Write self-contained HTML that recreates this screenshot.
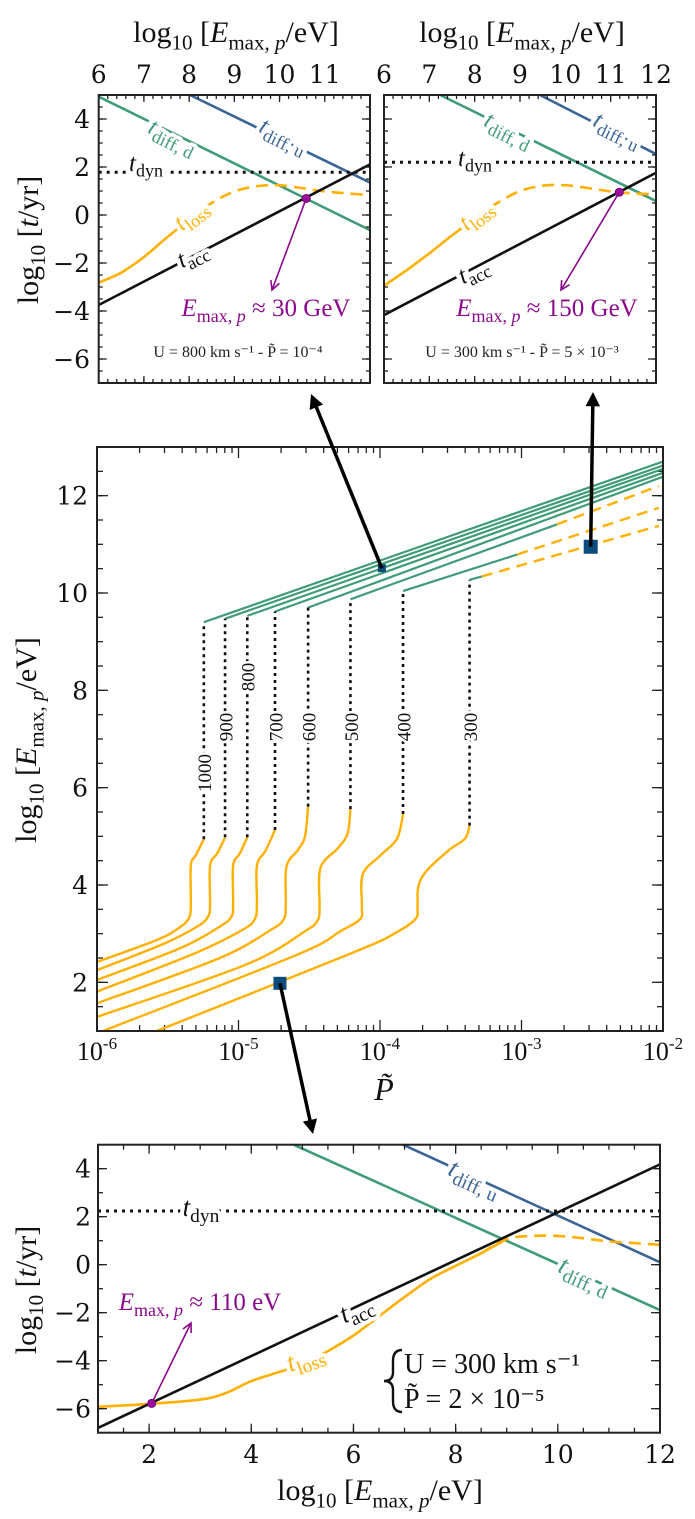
<!DOCTYPE html>
<html><head><meta charset="utf-8">
<style>
html,body{margin:0;padding:0;background:#fff;}
svg{display:block;}
text{font-family:"Liberation Serif","DejaVu Serif",serif;}
.tk{font-family:"DejaVu Serif","Liberation Serif",serif;font-size:25px;fill:#111;}
</style></head>
<body>
<svg id="fig" width="695" height="1519" viewBox="0 0 695 1519" xmlns="http://www.w3.org/2000/svg"></svg>
<script>
// ---------- data: top-left panel (U=800, P=1e-4) ----------
const tlDiffU = [[8.02,5],[12,1.35]];
const tlDiffD = [[6,4.93],[12,-0.63]];
const tlDyn = 1.78;
const tlAcc = [[6,-3.75],[12,2.11]];
const lossX = [6,6.5,7,7.5,8,8.5,9,9.5,10,10.5,11,11.5,12];
const tlLossY = [-2.82,-2.4,-1.75,-0.95,-0.2,0.5,0.98,1.2,1.24,1.12,0.98,0.9,0.83];
const tlPoint = [10.59,0.69];
// ---------- data: top-right panel (U=300, P=5e-3) ----------
const trDiffU = [[9.44,5],[12,2.54]];
const trDiffD = [[7.24,5],[12,0.58]];
const trDyn = 2.2;
const trAcc = [[6,-4.17],[12,1.76]];
const trLossY = [-2.95,-2.3,-1.6,-0.85,-0.15,0.5,1.0,1.22,1.24,1.12,0.98,0.9,0.86];
const trPoint = [11.19,0.95];
// ---------- data: bottom panel (U=300, P=2e-5) ----------
const bDiffU = [[6.97,5],[12,0.1]];
const bDiffD = [[4.83,5],[12,-1.89]];
const bDyn = 2.24;
const bAcc = [[1,-6.8],[12,4.18]];
const bLossX = [1,2,3,3.5,4,4.5,5,5.5,6,6.5,7,7.5,8,8.5,9,9.5,10,10.5,11,11.5,12];
const bLossY = [-5.92,-5.8,-5.62,-5.35,-4.85,-4.5,-4.15,-3.6,-2.95,-2.15,-1.35,-0.6,-0.05,0.48,1.07,1.2,1.2,1.1,0.97,0.9,0.83];
const bPoint = [2.05,-5.78];
// ---------- data: middle panel ----------
const speeds = [1000,900,800,700,600,500,400,300];
const greenStart = [[-5.245,9.40],[-5.096,9.47],[-4.938,9.53],[-4.742,9.62],[-4.509,9.70],[-4.209,9.87],[-3.837,10.04],[-3.367,10.27]];
const greenEnd = [12.70,12.62,12.55,12.47,12.39,12.2,11.75,11.38];
const dashStart = [null,null,null,null,null,-2.75,-3.03,-3.28];
const orangeCurves = [
 [[-6,2.42],[-5.577,2.87],[-5.42,3.12],[-5.35,3.32],[-5.337,3.6],[-5.337,4.4],[-5.3,4.62],[-5.245,4.94]],
 [[-6,2.25],[-5.522,2.80],[-5.29,3.15],[-5.215,3.35],[-5.201,3.6],[-5.201,4.4],[-5.15,4.65],[-5.095,4.98]],
 [[-6,2.05],[-5.413,2.70],[-5.13,3.15],[-5.05,3.35],[-5.038,3.6],[-5.038,4.4],[-4.99,4.65],[-4.938,4.98]],
 [[-6,1.81],[-5.305,2.60],[-4.97,3.08],[-4.885,3.3],[-4.870,3.6],[-4.870,4.4],[-4.81,4.7],[-4.742,5.13]],
 [[-6,1.57],[-5.141,2.49],[-4.77,3.08],[-4.68,3.3],[-4.666,3.6],[-4.661,4.38],[-4.58,4.72],[-4.53,5.0],[-4.508,5.61]],
 [[-6,1.29],[-4.951,2.36],[-4.53,3.05],[-4.44,3.28],[-4.427,3.55],[-4.421,4.35],[-4.3,4.75],[-4.23,5.05],[-4.209,5.56]],
 [[-5.958,1],[-4.6,2.55],[-4.28,3.05],[-4.14,3.3],[-4.128,3.55],[-4.122,4.22],[-4.0,4.6],[-3.88,4.95],[-3.837,5.46]],
 [[-5.578,1],[-4.2,2.6],[-3.9,3.0],[-3.75,3.3],[-3.735,3.55],[-3.73,3.95],[-3.674,4.28],[-3.511,4.72],[-3.4,4.95],[-3.367,5.22]]
];
const squares = [[-4.707,1.98,13],[-3.987,10.51,8],[-2.511,10.95,14]];

const C = {green:'#3f9c76',blue:'#3a6596',orange:'#ffb000',purple:'#8b0a8b',sq:'#0c4c7c',ax:'#222'};
const NS='http://www.w3.org/2000/svg';
const svg=document.getElementById('fig');
function el(tag,attrs,parent){const e=document.createElementNS(NS,tag);for(const k in attrs)e.setAttribute(k,attrs[k]);(parent||svg).appendChild(e);return e;}
function pathD(pts){return pts.map((p,i)=>(i?'L':'M')+p[0].toFixed(2)+' '+p[1].toFixed(2)).join(' ');}
function smoothD(p){
  if(p.length<3) return pathD(p);
  let d='M'+p[0][0].toFixed(2)+' '+p[0][1].toFixed(2);
  for(let i=0;i<p.length-1;i++){
    const p0=p[i-1]||p[i],p1=p[i],p2=p[i+1],p3=p[i+2]||p2;
    const c1=[p1[0]+(p2[0]-p0[0])/6,p1[1]+(p2[1]-p0[1])/6],c2=[p2[0]-(p3[0]-p1[0])/6,p2[1]-(p3[1]-p1[1])/6];
    d+=` C${c1[0].toFixed(2)} ${c1[1].toFixed(2)} ${c2[0].toFixed(2)} ${c2[1].toFixed(2)} ${p2[0].toFixed(2)} ${p2[1].toFixed(2)}`;
  }
  return d;
}

function makePanel(name,x0,x1,y0,y1,xmin,xmax,ymin,ymax){
  const g=el('g',{});
  
  
  return {g,X:v=>x0+(v-xmin)/(xmax-xmin)*(x1-x0),Y:v=>y1-(v-ymin)/(ymax-ymin)*(y1-y0),x0,x1,y0,y1};
}
function frame(P){
  const r=el('rect',{x:P.x0,y:P.y0,width:P.x1-P.x0,height:P.y1-P.y0,fill:'none',stroke:C.ax,'stroke-width':2},P.g);
  
  
}
function ticksLin(P,axis,from,to,step,len){
  const g=el('g',{stroke:C.ax,'stroke-width':1.3},P.g);
  
  
  const n=Math.round((to-from)/step);
  for(let i=0;i<=n;i++){const v=from+i*step;
    if(axis==='x'){const x=P.X(v);el('line',{x1:x,y1:P.y1,x2:x,y2:P.y1-len},g);el('line',{x1:x,y1:P.y0,x2:x,y2:P.y0+len},g);}
    else{const y=P.Y(v);el('line',{x1:P.x0,y1:y,x2:P.x0+len,y2:y},g);el('line',{x1:P.x1,y1:y,x2:P.x1-len,y2:y},g);}
  }
}
function line(P,pts,color,name,opts,smooth){
  const sp=pts.map(q=>[P.X(q[0]),P.Y(q[1])]);
  const p=el('path',Object.assign({d:smooth?smoothD(sp):pathD(sp),fill:'none',stroke:color,'stroke-width':2.6},opts||{}),P.g);
  
  
  return p;
}
function mathLabel(P,x,y,ang,main,sub,color,name,size){
  size=size||25;
  const t=el('text',{x:x,y:y,fill:color,'font-size':size,'text-anchor':'middle','dominant-baseline':'middle',transform:`rotate(${ang} ${x} ${y})`,stroke:'#fff','stroke-width':8,'paint-order':'stroke','stroke-linejoin':'round'},P.g);
  
  
  const a=el('tspan',{'font-style':'italic'},t);a.textContent=main;
  const b=el('tspan',{'font-size':size*0.72,dy:size*0.3},t);b.textContent=sub;
  return t;
}
function textAt(parent,x,y,str,attrs,name){
  const t=el('text',Object.assign({x:x,y:y},attrs||{}),parent);
  t.textContent=str;
  
  
  return t;
}
function emaxTitle(parent,x,y,name,size){
  size=size||30;
  const t=el('text',{x:x,y:y,'font-size':size,'text-anchor':'middle',fill:'#111'},parent);
  
  
  const parts=[['log',{}],['10',{'font-size':size*0.7,dy:size*0.25}],['  [',{dy:-size*0.25}],['E',{'font-style':'italic'}],['max, ',{'font-size':size*0.7,dy:size*0.25}],['p',{'font-size':size*0.7,'font-style':'italic'}],['/eV]',{dy:-size*0.25}]];
  parts.forEach(p=>{const s=el('tspan',p[1],t);s.textContent=p[0];});
  return t;
}
function tyrTitle(parent,x,y,name){
  const t=el('text',{x:x,y:y,'font-size':30,'text-anchor':'middle',fill:'#111',transform:`rotate(-90 ${x} ${y})`},parent);
  
  
  [['log',{}],['10',{'font-size':21,dy:7}],['  [',{dy:-7}],['t',{'font-style':'italic'}],['/yr]',{}]].forEach(p=>{const s=el('tspan',p[1],t);s.textContent=p[0];});
}
function arrow(x1,y1,x2,y2,color,w,head,name,filled){
  const g=el('g',{});
  
  
  const ang=Math.atan2(y2-y1,x2-x1);
  const bx=x2-Math.cos(ang)*head*0.8, by=y2-Math.sin(ang)*head*0.8;
  el('line',{x1:x1,y1:y1,x2:filled?bx:x2,y2:filled?by:y2,stroke:color,'stroke-width':w},g);
  const a1=ang+Math.PI*0.85,a2=ang-Math.PI*0.85;
  const p1=[x2+Math.cos(a1)*head,y2+Math.sin(a1)*head],p2=[x2+Math.cos(a2)*head,y2+Math.sin(a2)*head];
  if(filled) el('path',{d:`M${x2} ${y2} L${p1[0]} ${p1[1]} L${p2[0]} ${p2[1]} Z`,fill:color},g);
  else el('path',{d:`M${p1[0]} ${p1[1]} L${x2} ${y2} L${p2[0]} ${p2[1]}`,fill:'none',stroke:color,'stroke-width':w},g);
}
function emaxAnn(P,x,y,val,name){
  const t=el('text',{x:x,y:y,'font-size':25,fill:C.purple,'text-anchor':'middle',stroke:'#fff','stroke-width':5,'paint-order':'stroke'},P.g);
  
  [['E',{'font-style':'italic'}],['max, ',{'font-size':18,dy:6}],['p',{'font-size':18,'font-style':'italic'}],[' ≈ '+val,{dy:-6}]].forEach(p=>{const s=el('tspan',p[1],t);s.textContent=p[0];});
}

function timePanel(P,d){
  line(P,d.diffU,C.blue,'t-diff-u-line');
  line(P,d.diffD,C.green,'t-diff-d-line');
  line(P,[[d.xmin,d.dyn],[d.xmax,d.dyn]],'#111','t-dyn-line',{'stroke-dasharray':'3 5','stroke-width':3});
  const solid=[],dash=[];
  d.lx.forEach((x,i)=>{const p=[x,d.ly[i]];if(x<=d.solidEnd)solid.push(p);if(x>=d.solidEnd-0.5)dash.push(p);});
  line(P,solid,C.orange,'t-loss-solid',{},true);
  line(P,dash,C.orange,'t-loss-dashed',{'stroke-dasharray':'12 7'},true);
  line(P,d.acc,'#111','t-acc-line');
  const c=el('circle',{cx:P.X(d.pt[0]),cy:P.Y(d.pt[1]),r:4,fill:'#a010a0',stroke:'#700070','stroke-width':1},P.g);
  
  
}

// ===== Top-left =====
const TL=makePanel('panel-top-left',98.7,370,95,383,6,12,-7,5);
timePanel(TL,{diffU:tlDiffU,diffD:tlDiffD,dyn:tlDyn,acc:tlAcc,lx:lossX,ly:tlLossY,solidEnd:8.4,pt:tlPoint,xmin:6,xmax:12});
ticksLin(TL,'x',6,12,0.2,4);ticksLin(TL,'x',6,12,1,7);
ticksLin(TL,'y',-7,5,0.5,4);ticksLin(TL,'y',-6,4,2,8);
frame(TL);
mathLabel(TL,283,137,26,'t','diff, u',C.blue,'t-diff-u-label');
mathLabel(TL,172,138,26,'t','diff, d',C.green,'t-diff-d-label');
mathLabel(TL,146,165,0,'t','dyn','#111','t-dyn-label');
mathLabel(TL,192,216,-38,'t','loss',C.orange,'t-loss-label');
mathLabel(TL,193,256,-27,'t','acc','#111','t-acc-label');
arrow(TL.X(tlPoint[0]),TL.Y(tlPoint[1]),272,290,C.purple,1.6,10,'e-max-arrow-top-left',false);
emaxAnn(TL,266,316,'30 GeV','e-max-annotation');
textAt(TL.g,238,357,'U = 800 km s⁻¹ - P̃ = 10⁻⁴',{'font-size':16,'text-anchor':'middle',fill:'#222'},'parameters-annotation');
for(let v=6;v<=11;v++) textAt(TL.g,TL.X(v),83,String(v),{class:'tk','text-anchor':'middle'},'x-tick-label');
for(let v=-6;v<=4;v+=2) textAt(TL.g,90,TL.Y(v)+9,(v<0?'−':'')+Math.abs(v),{class:'tk','text-anchor':'end'},'y-tick-label');
emaxTitle(TL.g,236,42,'x-axis-title-top-left');
tyrTitle(TL.g,38,240,'y-axis-title-top');

// ===== Top-right =====
const TR=makePanel('panel-top-right',384,656,95,383,6,12,-7,5);
timePanel(TR,{diffU:trDiffU,diffD:trDiffD,dyn:trDyn,acc:trAcc,lx:lossX,ly:trLossY,solidEnd:8.4,pt:trPoint,xmin:6,xmax:12});
ticksLin(TR,'x',6,12,0.2,4);ticksLin(TR,'x',6,12,1,7);
ticksLin(TR,'y',-7,5,0.5,4);ticksLin(TR,'y',-6,4,2,8);
frame(TR);
mathLabel(TR,617,131,26,'t','diff, u',C.blue,'t-diff-u-label');
mathLabel(TR,508,131,26,'t','diff, d',C.green,'t-diff-d-label');
mathLabel(TR,475,160,0,'t','dyn','#111','t-dyn-label');
mathLabel(TR,477,216,-38,'t','loss',C.orange,'t-loss-label');
mathLabel(TR,474,272,-27,'t','acc','#111','t-acc-label');
arrow(TR.X(trPoint[0]),TR.Y(trPoint[1]),561,290,C.purple,1.6,10,'e-max-arrow-top-right',false);
emaxAnn(TR,547,316,'150 GeV','e-max-annotation');
textAt(TR.g,522,357,'U = 300 km s⁻¹ - P̃ = 5 × 10⁻³',{'font-size':16,'text-anchor':'middle',fill:'#222'},'parameters-annotation');
for(let v=6;v<=12;v++) textAt(TR.g,TR.X(v),83,String(v),{class:'tk','text-anchor':'middle'},'x-tick-label');
emaxTitle(TR.g,522,42,'x-axis-title-top-right');

// ===== Middle =====
const M=makePanel('panel-middle',97,663,447,1031,-6,-2,1,13);
(function(){
  const g=el('g',{stroke:C.ax,'stroke-width':1.3},M.g);
  
  for(let d=-6;d<-2;d++)for(let k=1;k<10;k++){const x=M.X(d+Math.log10(k));const L=k===1?11:6;
    el('line',{x1:x,y1:M.y1,x2:x,y2:M.y1-L},g);el('line',{x1:x,y1:M.y0,x2:x,y2:M.y0+L},g);}
})();
ticksLin(M,'y',1,13,0.5,6);ticksLin(M,'y',2,12,2,11);
speeds.forEach((u,i)=>{
  const gs=greenStart[i], ds=dashStart[i];
  const endG = ds===null ? [-2,greenEnd[i]] : [ds, gs[1]+(greenEnd[i]-gs[1])*(ds-gs[0])/(-2-gs[0])];
  line(M,[gs,endG],C.green,'green-line-'+u,{'stroke-width':2.2});
  if(ds!==null) line(M,[endG,[-2.03,greenEnd[i]]],C.orange,'dashed-line-'+u,{'stroke-dasharray':'11 7','stroke-width':2.4});
  const oc=orangeCurves[i]; const top=oc[oc.length-1];
  line(M,oc,C.orange,'orange-curve-'+u,{'stroke-width':2.4,'stroke-linejoin':'round'},true);
  line(M,[top,[top[0],gs[1]]],'#111','dotted-line-'+u,{'stroke-dasharray':'3 4','stroke-width':2.6});
  const lx=M.X(gs[0])+3, ly=u===1000?773:(u===800?677:727);
  const t=el('text',{x:lx,y:ly,'font-size':19,'font-family':'DejaVu Sans, sans-serif','text-anchor':'middle','dominant-baseline':'middle',fill:'#111',transform:`rotate(-90 ${lx} ${ly})`,stroke:'#fff','stroke-width':5,'paint-order':'stroke'},M.g);
  t.textContent=String(u);
  
  
});
frame(M);
arrow(M.X(squares[1][0]),M.Y(squares[1][1]),311,394,'#000',3.5,16,'arrow-to-top-left',true);
arrow(M.X(squares[2][0]),M.Y(squares[2][1]),593,392,'#000',3.5,16,'arrow-to-top-right',true);
arrow(M.X(squares[0][0]),M.Y(squares[0][1]),313,1134,'#000',3.5,16,'arrow-to-bottom',true);
squares.forEach((s,i)=>{
  const r=el('rect',{x:M.X(s[0])-s[2]/2,y:M.Y(s[1])-s[2]/2,width:s[2],height:s[2],fill:C.sq},M.g);
  
  
});
for(let d=-6;d<=-2;d++){
  const t=el('text',{x:M.X(d),y:1060,'font-size':26,'text-anchor':'middle',fill:'#111','font-family':'DejaVu Serif, serif'},M.g);
  
  const a=el('tspan',{},t);a.textContent='10';
  const b=el('tspan',{'font-size':17,dy:-11},t);b.textContent='-'+Math.abs(d);
}
for(let v=2;v<=12;v+=2) textAt(M.g,88,M.Y(v)+9,String(v),{class:'tk','text-anchor':'end'},'y-tick-label');
(function(){const t=el('text',{x:384,y:1100,'font-size':32,'font-style':'italic','text-anchor':'middle',fill:'#111'},M.g);
t.textContent='P̃';})();
(function(){const x=36,y=740;const g=el('g',{transform:`rotate(-90 ${x} ${y})`},M.g);emaxTitle(g,x,y,'y-axis-title-middle');})();

// ===== Bottom =====
const B=makePanel('panel-bottom',98,660,1144.7,1432.7,1,12,-7,5);
timePanel(B,{diffU:bDiffU,diffD:bDiffD,dyn:bDyn,acc:bAcc,lx:bLossX,ly:bLossY,solidEnd:9.0,pt:bPoint,xmin:1,xmax:12});
ticksLin(B,'x',1,12,0.5,5);ticksLin(B,'x',2,12,2,9);
ticksLin(B,'y',-7,5,1,5);ticksLin(B,'y',-6,4,2,9);
frame(B);
mathLabel(B,474,1180,24,'t','diff, u',C.blue,'t-diff-u-label',27);
mathLabel(B,584,1277,24,'t','diff, d',C.green,'t-diff-d-label',27);
mathLabel(B,201,1210,0,'t','dyn','#111','t-dyn-label',27);
mathLabel(B,357,1311,-25,'t','acc','#111','t-acc-label',27);
mathLabel(B,306,1360,-20,'t','loss',C.orange,'t-loss-label',27);
arrow(B.X(bPoint[0]),B.Y(bPoint[1]),191,1323,C.purple,1.6,10,'e-max-arrow-bottom',false);
emaxAnn(B,200,1310,'110 eV','e-max-annotation');
(function(){const g=el('g',{},B.g);
el('path',{d:'M402 1350 Q393 1350 393 1361 L393 1372 Q393 1381 384 1381 Q393 1381 393 1390 L393 1401 Q393 1412 402 1412',fill:'none',stroke:'#111','stroke-width':2.4},g);
textAt(g,404,1373,'U = 300 km s⁻¹',{'font-size':28,fill:'#111'},'speed-parameter');
textAt(g,404,1408,'P̃ = 2 × 10⁻⁵',{'font-size':28,fill:'#111'},'pressure-parameter');})();
for(let v=2;v<=12;v+=2) textAt(B.g,B.X(v),1463,String(v),{class:'tk','text-anchor':'middle'},'x-tick-label');
for(let v=-6;v<=4;v+=2) textAt(B.g,91,B.Y(v)+9,(v<0?'−':'')+Math.abs(v),{class:'tk','text-anchor':'end'},'y-tick-label');
emaxTitle(B.g,380,1500,'x-axis-title-bottom');
tyrTitle(B.g,36,1290,'y-axis-title-bottom');
</script>
</body></html>
